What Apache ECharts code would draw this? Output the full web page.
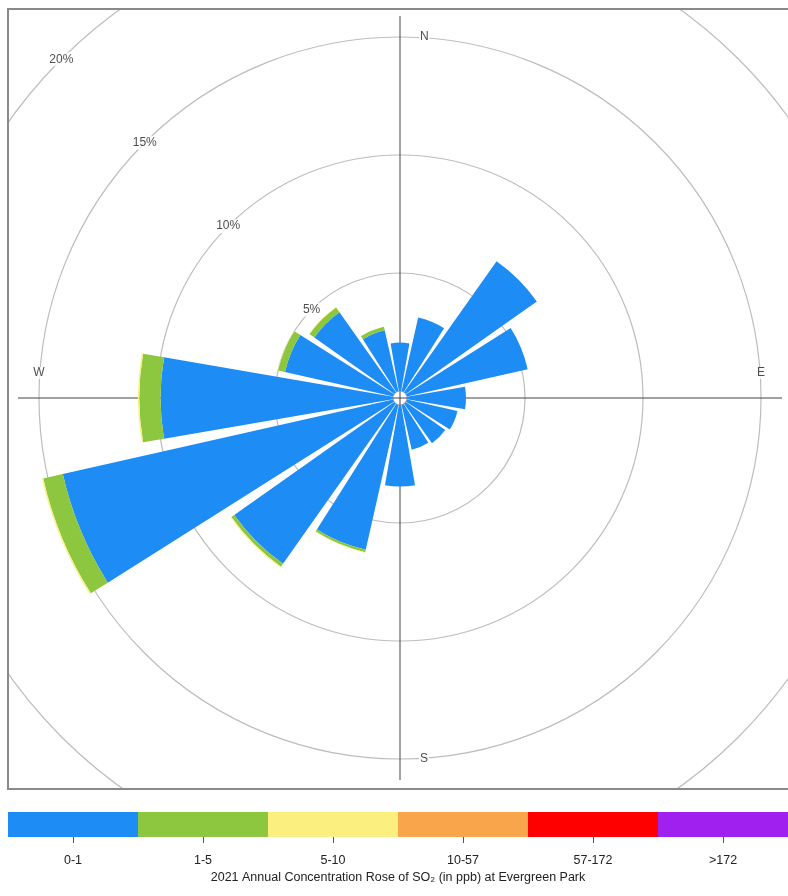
<!DOCTYPE html>
<html>
<head>
<meta charset="utf-8">
<script src="https://cdn.jsdelivr.net/npm/echarts@6/dist/echarts.min.js"></script>
<style>
html, body { margin: 0; padding: 0; background: #fff; }
#rose {
	position: absolute; left: 0; top: 0; width: 788px; height: 896px;
	clip-path: inset(10px 0 108px 9px);
}
#frame {
	position: absolute; left: 7px; top: 8px; width: 800px; height: 778px;
	border: 2px solid #8a8a8a; pointer-events: none;
}
#legend { position: absolute; left: 0; top: 800px; width: 788px; height: 96px; }
</style>
</head>
<body>
<div id="rose"></div>
<div id="frame"></div>
<div id="legend"></div>
<script>
// 16 wind sectors, clockwise from north
const directions = ['N', 'NNE', 'NE', 'ENE', 'E', 'ESE', 'SE', 'SSE', 'S', 'SSW', 'SW', 'WSW', 'W', 'WNW', 'NW', 'NNW'];
// concentration classes (ppb)
const classNames = ['0-1', '1-5', '5-10', '10-57', '57-172', '>172'];
// frequency (%) per class and sector
const freq0to1 = [2.05, 3.2, 6.8, 5.25, 2.5, 2.2, 2.05, 1.95, 3.45, 6.3, 8.3, 14.35, 9.85, 4.7, 4.15, 2.65];
const freq1to5 = [0, 0, 0, 0, 0, 0, 0, 0, 0, 0.1, 0.15, 0.85, 0.9, 0.3, 0.25, 0.15];
const freq5to10 = [0, 0, 0, 0, 0, 0, 0, 0, 0, 0.02, 0.04, 0.06, 0.06, 0.02, 0.02, 0];
const freq10to57 = [0, 0, 0, 0, 0, 0, 0, 0, 0, 0, 0, 0, 0, 0, 0, 0];
const freq57to172 = [0, 0, 0, 0, 0, 0, 0, 0, 0, 0, 0, 0, 0, 0, 0, 0];
const freqOver172 = [0, 0, 0, 0, 0, 0, 0, 0, 0, 0, 0, 0, 0, 0, 0, 0];
const ringTicks = [5, 10, 15, 20];
const cardinals = ['N', 'E', 'S', 'W'];
const chartTitle = '2021 Annual Concentration Rose of SO₂ (in ppb) at Evergreen Park';

const classColors = ['#1e8cf5', '#8dc63f', '#fbf07f', '#f8a54b', '#ff0000', '#a021ef'];
const allFreq = [freq0to1, freq1to5, freq5to10, freq10to57, freq57to172, freqOver172];
const font = 'Liberation Sans, Arial, sans-serif';

let rose = echarts.init(document.getElementById('rose'));
let legend = echarts.init(document.getElementById('legend'));

let barSeries = allFreq.map((arr, k) => ({
	type: 'bar',
	name: classNames[k],
	coordinateSystem: 'polar',
	polarIndex: 0,
	stack: 'rose',
	barCategoryGap: '13%',
	itemStyle: { color: classColors[k] },
	z: 3,
	data: arr,
}));

// ring percentage labels along the NW diagonal
let ringLabels = {
	type: 'scatter',
	coordinateSystem: 'polar',
	polarIndex: 0,
	symbolSize: 0,
	z: 5,
	label: {
		show: true,
		position: 'inside',
		formatter: p => p.value[0] + '%',
		color: '#222',
		fontSize: 12,
		fontFamily: font,
		backgroundColor: '#fff',
		padding: [1, 1],
	},
	data: ringTicks.map(v => [v, 'NW']),
};

// compass letters on the 15% ring
let compassLabels = {
	type: 'scatter',
	coordinateSystem: 'polar',
	polarIndex: 0,
	symbolSize: 0,
	z: 5,
	label: {
		show: true,
		formatter: p => p.name,
		color: '#222',
		fontSize: 12,
		fontFamily: font,
		backgroundColor: '#fff',
		padding: [0, 1],
		distance: 19,
	},
	data: cardinals.map(c => ({
		name: c,
		value: [15, c],
		label: { position: c == 'N' || c == 'S' ? 'right' : 'top' },
	})),
};

rose.setOption({
	animation: false,
	polar: [
		{ center: [400, 398], radius: [7, 479] },
		{ center: [400, 398], radius: [0, 382] },
	],
	angleAxis: [
		{
			polarIndex: 0,
			type: 'category',
			data: directions,
			startAngle: 90 + 360 / directions.length / 2,
			clockwise: true,
			axisLine: { show: false },
			axisTick: { show: false },
			axisLabel: { show: false },
			splitLine: { show: false },
		},
		{
			// N-E-S-W cross hair
			polarIndex: 1,
			type: 'value',
			min: 0,
			max: 360,
			interval: 90,
			startAngle: 90,
			axisLine: { show: false },
			axisTick: { show: false },
			axisLabel: { show: false },
			splitLine: { show: true, lineStyle: { color: '#444', width: 1 } },
		},
	],
	radiusAxis: [
		{
			polarIndex: 0,
			min: 0,
			max: 20,
			interval: 5,
			axisLine: { show: false },
			axisTick: { show: false },
			axisLabel: { show: false },
			splitLine: { show: true, lineStyle: { color: '#bdbdbd', width: 1.2 } },
		},
		{
			polarIndex: 1,
			min: 0,
			max: 1,
			axisLine: { show: false },
			axisTick: { show: false },
			axisLabel: { show: false },
			splitLine: { show: false },
		},
	],
	series: [...barSeries, ringLabels, compassLabels],
});

legend.setOption({
	animation: false,
	grid: { left: 8, right: 0, top: 12, height: 25 },
	xAxis: {
		type: 'category',
		data: classNames,
		axisLine: { show: false },
		axisTick: { show: true, alignWithLabel: true, length: 6, lineStyle: { color: '#555' } },
		axisLabel: { color: '#222', fontSize: 12.5, fontFamily: font, margin: 17 },
		name: chartTitle,
		nameLocation: 'middle',
		nameGap: 34,
		nameTextStyle: { color: '#222', fontSize: 12.5, fontFamily: font },
	},
	yAxis: { type: 'value', min: 0, max: 1, show: false },
	series: [
		{
			type: 'bar',
			barCategoryGap: 0,
			data: classNames.map((c, k) => ({ value: 1, itemStyle: { color: classColors[k] } })),
		},
	],
});
</script>
</body>
</html>
